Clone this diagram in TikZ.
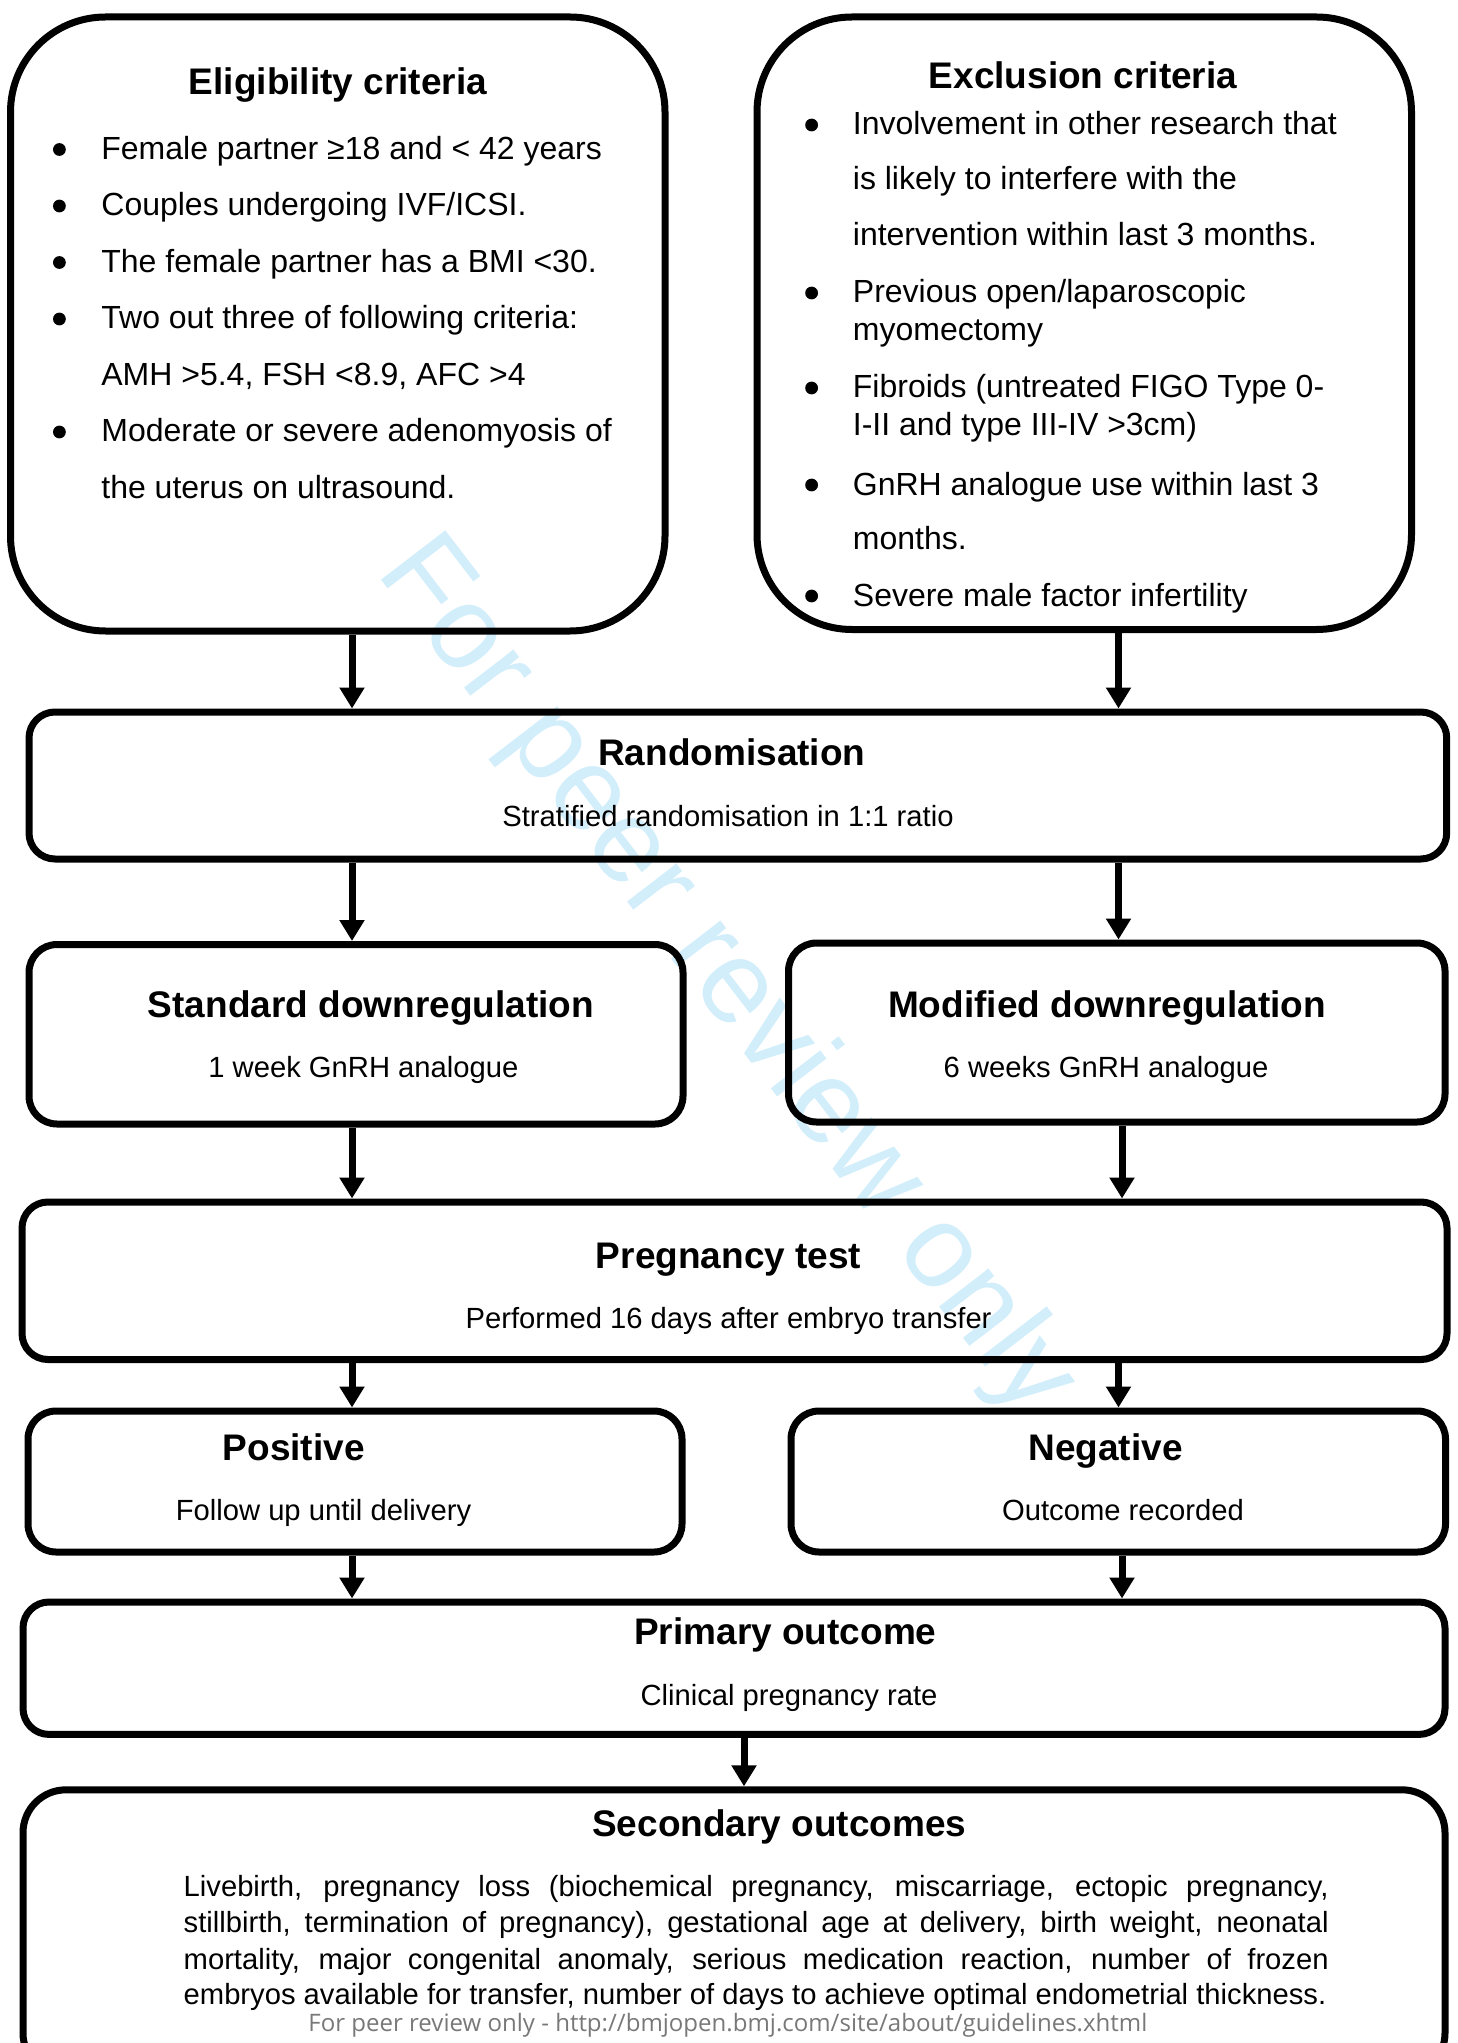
\documentclass[tikz,border=0pt]{standalone}
\usepackage{fontspec}
\setmainfont{Liberation Sans}
\newfontfamily\footfont{Open Sans}
\usepackage{graphicx}
\usetikzlibrary{arrows.meta}
\definecolor{wmblue}{RGB}{210,238,251}
\definecolor{footgray}{RGB}{120,120,120}
\begin{document}
\begin{tikzpicture}[x=0.5pt,y=-0.5pt,
  boxst/.style={draw, line width=3.5pt, inner sep=0pt},
  arr/.style={line width=3.5pt, -{Triangle[width=12pt,length=10.5pt]}},
  ttltxt/.style={anchor=base, inner sep=0pt, font=\fontsize{18.5}{22}\selectfont\bfseries},
  subtxt/.style={anchor=base, inner sep=0pt, font=\fontsize{14.6}{17.5}\selectfont},
  itemtxt/.style={anchor=base west, inner sep=0pt, font=\fontsize{16}{19}\selectfont},
  paratxt/.style={anchor=base west, inner sep=0pt, font=\fontsize{14.6}{17.5}\selectfont},
  bul/.style={fill=black}
]
\useasboundingbox (0,0) rectangle (1457,2043);
\clip (0,0) rectangle (1457,2043);

% watermark
\node[rotate=-52.5, text=wmblue, font=\fontsize{59}{62}\selectfont, inner sep=0pt] (wm) at (725,978) {For peer review only};

% boxes
\node[boxst, rounded corners=47.5pt, minimum width=327.25pt, minimum height=307pt] (elig) at (337.75,324) {};
\node[boxst, rounded corners=47.5pt, minimum width=327.25pt, minimum height=306.25pt] (excl) at (1084.25,323.25) {};
\node[boxst, rounded corners=13pt, minimum width=708.85pt, minimum height=73.5pt] (rand) at (737.85,785.5) {};
\node[boxst, rounded corners=14pt, minimum width=327pt, minimum height=89.75pt] (std) at (356,1034.25) {};
\node[boxst, rounded corners=14pt, minimum width=328.25pt, minimum height=89.5pt] (mod) at (1116.75,1032.5) {};
\node[boxst, rounded corners=13pt, minimum width=712.5pt, minimum height=78.75pt] (preg) at (734.5,1280.75) {};
\node[boxst, rounded corners=14pt, minimum width=327pt, minimum height=70.5pt] (pos) at (355,1481.5) {};
\node[boxst, rounded corners=14pt, minimum width=327.25pt, minimum height=70.5pt] (neg) at (1118.25,1481.5) {};
\node[boxst, rounded corners=13pt, minimum width=711pt, minimum height=66.2pt] (prim) at (734,1668.2) {};
\node[boxst, rounded corners=21.5pt, minimum width=711pt, minimum height=143.1pt] (sec) at (734,1932.9) {};

% eligibility
\node[ttltxt] (eligT) at (338,95) {Eligibility criteria};
\node[itemtxt] (e1) at (101,159.5) {Female partner ≥18 and < 42 years};
\node[itemtxt] (e2) at (101,216) {Couples undergoing IVF/ICSI.};
\node[itemtxt] (e3) at (101,272.5) {The female partner has a BMI <30.};
\node[itemtxt] (e4) at (101,329) {Two out three of following criteria:};
\node[itemtxt] (e5) at (101,385.5) {AMH >5.4, FSH <8.9, AFC >4};
\node[itemtxt] (e6) at (101,442) {Moderate or severe adenomyosis of};
\node[itemtxt] (e7) at (101,498.5) {the uterus on ultrasound.};
\foreach \yy in {149.5,206,262.5,319,432} \fill[bul] (59.4,\yy) circle (3.2pt);

% exclusion
\node[ttltxt] (exclT) at (1083,88.5) {Exclusion criteria};
\node[itemtxt] (x1) at (852.5,135) {Involvement in other research that};
\node[itemtxt] (x2) at (852.5,189.5) {is likely to interfere with the};
\node[itemtxt] (x3) at (852.5,246) {intervention within last 3 months.};
\node[itemtxt] (x4) at (852.5,303) {Previous open/laparoscopic};
\node[itemtxt] (x5) at (852.5,340.5) {myomectomy};
\node[itemtxt] (x6) at (852.5,398) {Fibroids (untreated FIGO Type 0-};
\node[itemtxt] (x7) at (852.5,435.5) {I-II and type III-IV >3cm)};
\node[itemtxt] (x8) at (852.5,495) {GnRH analogue use within last 3};
\node[itemtxt] (x9) at (852.5,549.5) {months.};
\node[itemtxt] (x10) at (852.5,606) {Severe male factor infertility};
\foreach \yy in {125,293,388,485,596} \fill[bul] (811.6,\yy) circle (3.2pt);

% other boxes text
\node[ttltxt] (randT) at (731.8,765.5) {Randomisation};
\node[subtxt] (randS) at (728,826) {Stratified randomisation in 1:1 ratio};
\node[ttltxt] (stdT) at (371,1017) {Standard downregulation};
\node[subtxt] (stdS) at (363.4,1077) {1 week GnRH analogue};
\node[ttltxt] (modT) at (1107,1017) {Modified downregulation};
\node[subtxt] (modS) at (1106,1077) {6 weeks GnRH analogue};
\node[ttltxt] (pregT) at (728.6,1268) {Pregnancy test};
\node[subtxt] (pregS) at (728.6,1328) {Performed 16 days after embryo transfer};
\node[ttltxt] (posT) at (293.7,1460) {Positive};
\node[subtxt] (posS) at (323.5,1520) {Follow up until delivery};
\node[ttltxt] (negT) at (1105.5,1460) {Negative};
\node[subtxt] (negS) at (1123,1520) {Outcome recorded};
\node[ttltxt] (primT) at (785.4,1644) {Primary outcome};
\node[subtxt] (primS) at (789,1705) {Clinical pregnancy rate};
\node[ttltxt] (secT) at (779.3,1836) {Secondary outcomes};
\node[paratxt] (s1) at (183.3,1896.5) {\makebox[572.5pt][s]{Livebirth, pregnancy loss (biochemical pregnancy, miscarriage, ectopic pregnancy,}};
\node[paratxt] (s2) at (183.3,1932.8) {\makebox[572.5pt][s]{stillbirth, termination of pregnancy), gestational age at delivery, birth weight, neonatal}};
\node[paratxt] (s3) at (183.3,1969.2) {\makebox[572.5pt][s]{mortality, major congenital anomaly, serious medication reaction, number of frozen}};
\node[paratxt] (s4) at (183.3,2004.8) {embryos available for transfer, number of days to achieve optimal endometrial thickness.};

% footer
\node[anchor=base west, inner sep=0pt, text=footgray, font=\footfont\fontsize{10.5}{12}\selectfont] (foot) at (308,2031) {\resizebox{419.5pt}{!}{For peer review only - http://bmjopen.bmj.com/site/about/guidelines.xhtml}};

% connectors
\coordinate (cL) at (352,0);
\coordinate (cR) at (1118.5,0);
\coordinate (cR2) at (1122,0);
\coordinate (cM) at (744,0);
\draw[arr] (elig.south -| cL) -- (rand.north -| cL);
\draw[arr] (excl.south -| cR) -- (rand.north -| cR);
\draw[arr] (rand.south -| cL) -- (std.north -| cL);
\draw[arr] (rand.south -| cR) -- (mod.north -| cR);
\draw[arr] (std.south -| cL) -- (preg.north -| cL);
\draw[arr] (mod.south -| cR2) -- (preg.north -| cR2);
\draw[arr] (preg.south -| cL) -- (pos.north -| cL);
\draw[arr] (preg.south -| cR) -- (neg.north -| cR);
\draw[arr] (pos.south -| cL) -- (prim.north -| cL);
\draw[arr] (neg.south -| cR2) -- (prim.north -| cR2);
\draw[arr] (prim.south -| cM) -- (sec.north -| cM);
\end{tikzpicture}
\end{document}
